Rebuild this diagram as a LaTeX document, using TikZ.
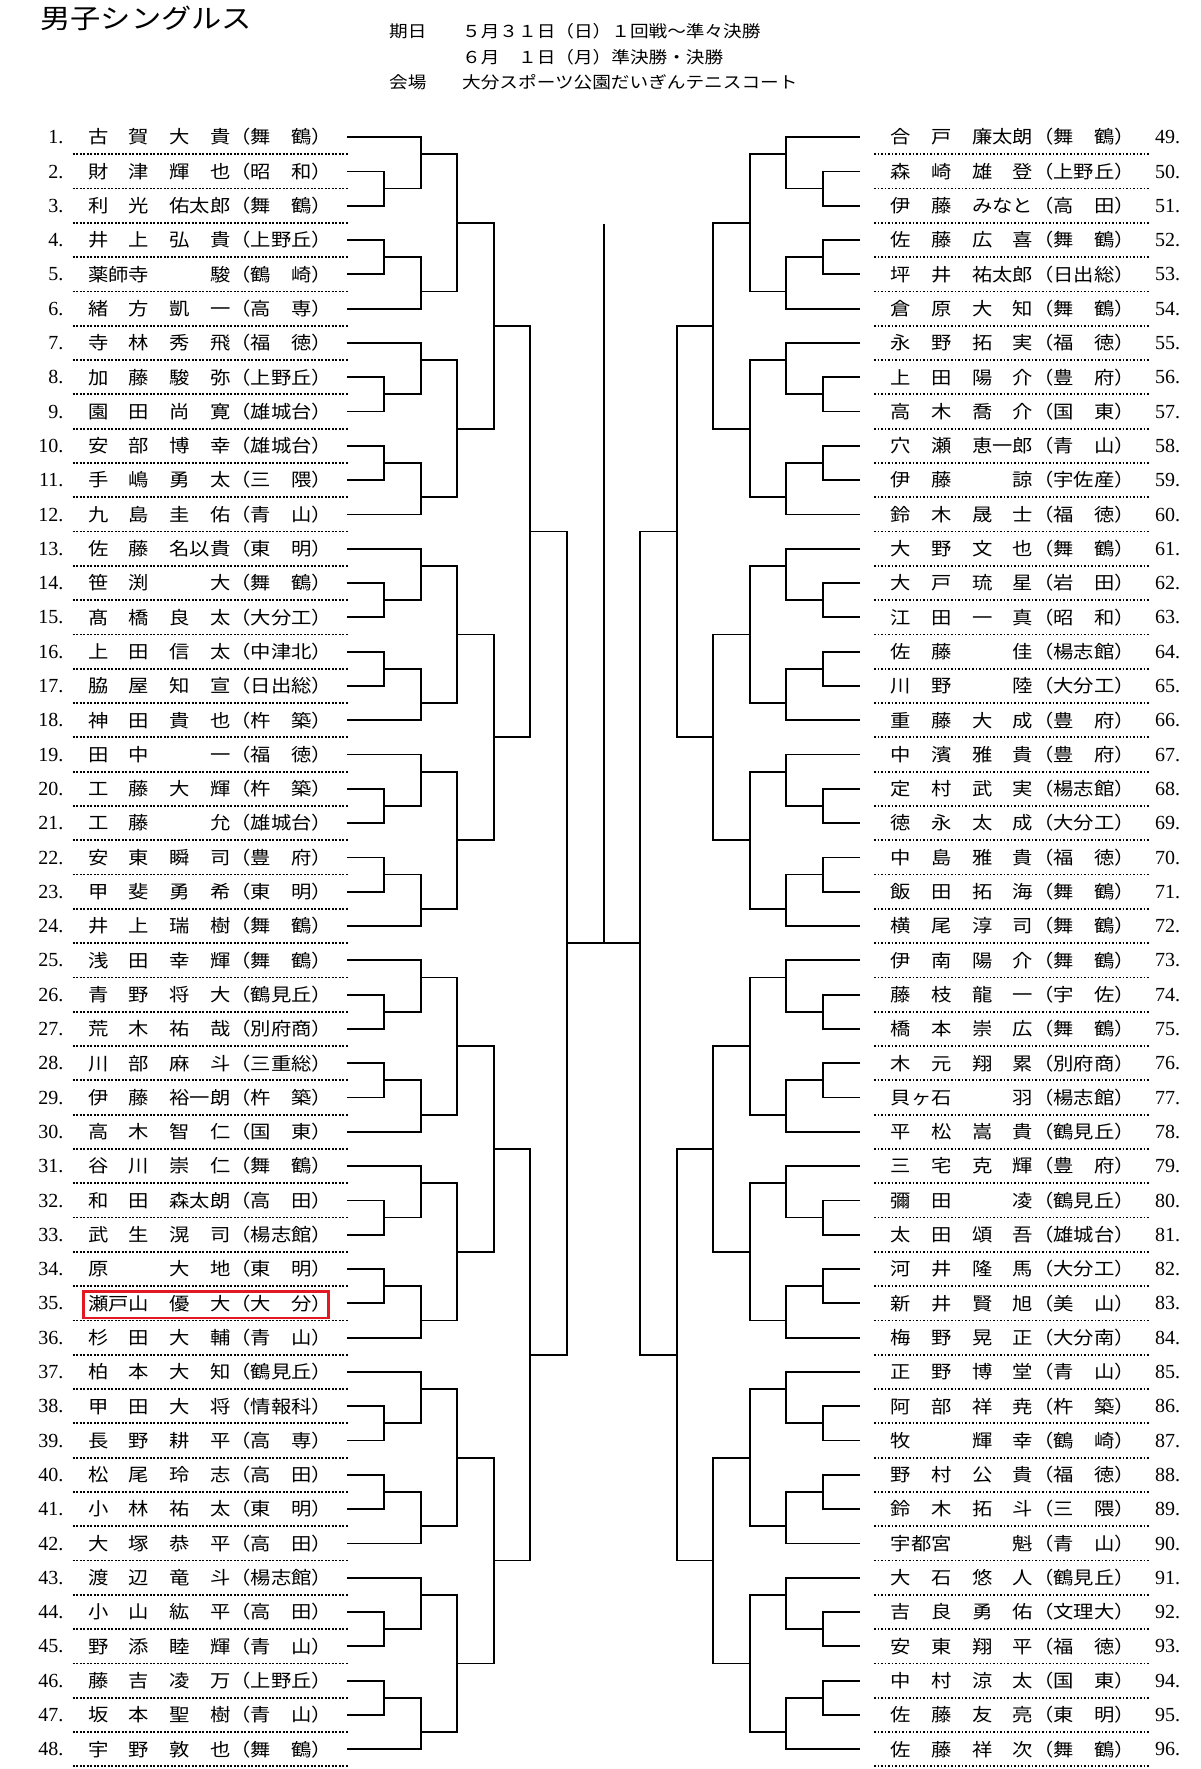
\documentclass[tikz,border=0pt]{standalone}
\usepackage{fontspec}
\setmainfont{Liberation Serif}
\newfontfamily\cjk{Noto Sans CJK JP}
\newcommand{\nmtxt}[1]{\scalebox{1.1306}[1]{\cjk\fontsize{18}{18}\selectfont #1}}
\newcommand{\hdtxt}[1]{\scalebox{1.13}[1]{\cjk\fontsize{16.5}{16.5}\selectfont #1}}
\newcommand{\ry}[1]{137.1+((#1)-1)*34.3}
\definecolor{hlred}{RGB}{225,25,35}
\tikzset{
  br/.style={line width=1.8pt, line join=miter},
  dotl/.style={line width=1.8pt, dash pattern=on 1.8pt off 1.7pt},
  numL/.style={anchor=base east, inner sep=0pt, font=\fontsize{20}{20}\selectfont},
  numR/.style={anchor=base west, inner sep=0pt, font=\fontsize{20}{20}\selectfont},
  namebox/.style={anchor=base west, inner sep=0pt},
  hl/.style={draw=hlred, line width=2.6pt, inner sep=0pt},
}
\begin{document}
\begin{tikzpicture}[x=1pt,y=-1pt]
\useasboundingbox (0,0) rectangle (1201,1769);
\fill[white] (0,0) rectangle (1201,1769);
% header
\node[namebox] (title) at (40,28.6) {\scalebox{1.13}[1]{\cjk\fontsize{26.8}{26.8}\selectfont 男子シングルス}};
\node[namebox] (h1a) at (389,37.9) {\hdtxt{期日}};
\node[namebox] (h1b) at (462,37.9) {\hdtxt{５月３１日（日）１回戦～準々決勝}};
\node[namebox] (h2b) at (462,63.8) {\hdtxt{６月　１日（月）準決勝・決勝}};
\node[namebox] (h3a) at (389,88.6) {\hdtxt{会場}};
\node[namebox] (h3b) at (462,88.6) {\hdtxt{大分スポーツ公園だいぎんテニスコート}};
% left names
\foreach \nme [count=\i] in {古　賀　大　貴（舞　鶴）,財　津　輝　也（昭　和）,利　光　佑太郎（舞　鶴）,井　上　弘　貴（上野丘）,薬師寺　　　駿（鶴　崎）,緒　方　凱　一（高　専）,寺　林　秀　飛（福　徳）,加　藤　駿　弥（上野丘）,園　田　尚　寛（雄城台）,安　部　博　幸（雄城台）,手　嶋　勇　太（三　隈）,九　島　圭　佑（青　山）,佐　藤　名以貴（東　明）,笹　渕　　　大（舞　鶴）,髙　橋　良　太（大分工）,上　田　信　太（中津北）,脇　屋　知　宣（日出総）,神　田　貴　也（杵　築）,田　中　　　一（福　徳）,工　藤　大　輝（杵　築）,工　藤　　　允（雄城台）,安　東　瞬　司（豊　府）,甲　斐　勇　希（東　明）,井　上　瑞　樹（舞　鶴）,浅　田　幸　輝（舞　鶴）,青　野　将　大（鶴見丘）,荒　木　祐　哉（別府商）,川　部　麻　斗（三重総）,伊　藤　裕一朗（杵　築）,高　木　智　仁（国　東）,谷　川　崇　仁（舞　鶴）,和　田　森太朗（高　田）,武　生　滉　司（楊志館）,原　　　大　地（東　明）,瀬戸山　優　大（大　分）,杉　田　大　輔（青　山）,柏　本　大　知（鶴見丘）,甲　田　大　将（情報科）,長　野　耕　平（高　専）,松　尾　玲　志（高　田）,小　林　祐　太（東　明）,大　塚　恭　平（高　田）,渡　辺　竜　斗（楊志館）,小　山　紘　平（高　田）,野　添　睦　輝（青　山）,藤　吉　凌　万（上野丘）,坂　本　聖　樹（青　山）,宇　野　敦　也（舞　鶴）}{
  \pgfmathsetmacro\yy{\ry{\i}}
  \node[numL] (nL-\i) at (63.5,{\yy+6.6}) {\i.};
  \node[namebox] (L-\i) at (87.8,{\yy+6.84}) {\nmtxt{\nme}};
  \draw[dotl] (72.7,{\yy+17.15}) -- (349,{\yy+17.15});
}
% right names
\foreach \nme [count=\i] in {合　戸　廉太朗（舞　鶴）,森　崎　雄　登（上野丘）,伊　藤　みなと（高　田）,佐　藤　広　喜（舞　鶴）,坪　井　祐太郎（日出総）,倉　原　大　知（舞　鶴）,永　野　拓　実（福　徳）,上　田　陽　介（豊　府）,高　木　喬　介（国　東）,穴　瀬　恵一郎（青　山）,伊　藤　　　諒（宇佐産）,鈴　木　晟　士（福　徳）,大　野　文　也（舞　鶴）,大　戸　琉　星（岩　田）,江　田　一　真（昭　和）,佐　藤　　　佳（楊志館）,川　野　　　陸（大分工）,重　藤　大　成（豊　府）,中　濱　雅　貴（豊　府）,定　村　武　実（楊志館）,徳　永　太　成（大分工）,中　島　雅　貴（福　徳）,飯　田　拓　海（舞　鶴）,横　尾　淳　司（舞　鶴）,伊　南　陽　介（舞　鶴）,藤　枝　龍　一（宇　佐）,橋　本　崇　広（舞　鶴）,木　元　翔　累（別府商）,貝ヶ石　　　羽（楊志館）,平　松　嵩　貴（鶴見丘）,三　宅　克　輝（豊　府）,彌　田　　　凌（鶴見丘）,太　田　頌　吾（雄城台）,河　井　隆　馬（大分工）,新　井　賢　旭（美　山）,梅　野　晃　正（大分南）,正　野　博　堂（青　山）,阿　部　祥　尭（杵　築）,牧　　　輝　幸（鶴　崎）,野　村　公　貴（福　徳）,鈴　木　拓　斗（三　隈）,宇都宮　　　魁（青　山）,大　石　悠　人（鶴見丘）,吉　良　勇　佑（文理大）,安　東　翔　平（福　徳）,中　村　涼　太（国　東）,佐　藤　友　亮（東　明）,佐　藤　祥　次（舞　鶴）}{
  \pgfmathsetmacro\yy{\ry{\i}}
  \pgfmathtruncatemacro\j{\i+48}
  \node[numR] (nR-\i) at (1155,{\yy+6.6}) {\j.};
  \node[namebox] (R-\i) at (890.6,{\yy+6.84}) {\nmtxt{\nme}};
  \draw[dotl] (874,{\yy+17.15}) -- (1150,{\yy+17.15});
}
% highlight
\node[hl, minimum width=245pt, minimum height=26.7pt] (hlbox) at (206.15,1304.55) {};
% brackets
\foreach \side/\xp/\xa/\xb/\xc/\xd/\xe/\xf in {L/347/384.3/420.7/457.3/494/530.3/567, R/860/822.7/786/750/713.3/677/640}{
  \foreach \i in {1,...,48}{
    \coordinate (p\side-\i) at (\xp,{\ry{\i}});
  }
  \foreach \g in {0,...,7}{
    \pgfmathtruncatemacro\rowA{6*\g+1}
    \pgfmathtruncatemacro\rowB{6*\g+2}
    \pgfmathtruncatemacro\rowC{6*\g+3}
    \pgfmathtruncatemacro\rowD{6*\g+4}
    \pgfmathtruncatemacro\rowE{6*\g+5}
    \pgfmathtruncatemacro\rowF{6*\g+6}
    \coordinate (\side-a-\g) at (\xa,{\ry{\rowA+1.5}});
    \coordinate (\side-b-\g) at (\xb,{\ry{\rowA+0.5}});
    \coordinate (\side-c-\g) at (\xa,{\ry{\rowA+3.5}});
    \coordinate (\side-d-\g) at (\xb,{\ry{\rowA+4.5}});
    \coordinate (\side-C-\g) at (\xc,{\ry{\rowA+2.5}});
    \draw[br] (p\side-\rowB) -| (\side-a-\g) |- (p\side-\rowC);
    \draw[br] (p\side-\rowA) -| (\side-b-\g) |- (\side-a-\g);
    \draw[br] (p\side-\rowD) -| (\side-c-\g) |- (p\side-\rowE);
    \draw[br] (\side-c-\g) -| (\side-d-\g) |- (p\side-\rowF);
    \draw[br] (\side-b-\g) -| (\side-C-\g) |- (\side-d-\g);
  }
  \foreach \h in {0,...,3}{
    \pgfmathtruncatemacro\ga{2*\h}
    \pgfmathtruncatemacro\gb{2*\h+1}
    \coordinate (\side-D-\h) at (\xd,{\ry{12*\h+6.5}});
    \draw[br] (\side-C-\ga) -| (\side-D-\h) |- (\side-C-\gb);
  }
  \foreach \k in {0,1}{
    \pgfmathtruncatemacro\ga{2*\k}
    \pgfmathtruncatemacro\gb{2*\k+1}
    \coordinate (\side-E-\k) at (\xe,{\ry{24*\k+12.5}});
    \draw[br] (\side-D-\ga) -| (\side-E-\k) |- (\side-D-\gb);
  }
  \coordinate (\side-F) at (\xf,{\ry{24.5}});
  \draw[br] (\side-E-0) -| (\side-F) |- (\side-E-1);
}
\draw[br] (L-F) -- (R-F);
\coordinate (champ) at (604,223.6);
\coordinate (fin) at (604,{\ry{24.5}});
\draw[br] (champ) -- (fin);
\end{tikzpicture}
\end{document}
